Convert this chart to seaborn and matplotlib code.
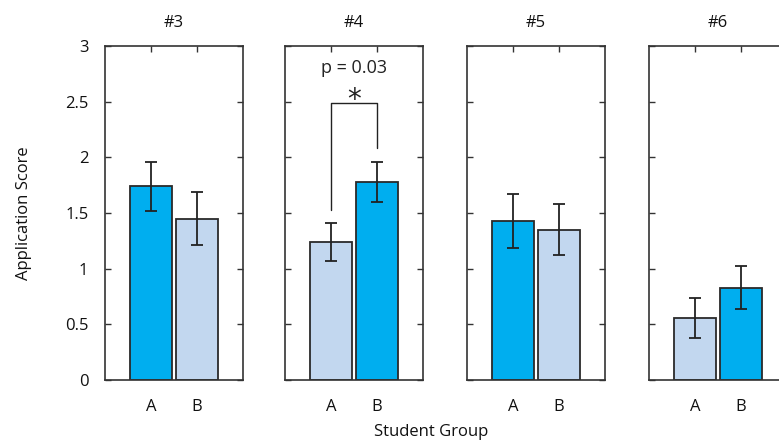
import matplotlib
matplotlib.use("Agg")
import matplotlib.pyplot as plt
import seaborn as sns
import pandas as pd

sns.set_theme(style="white")
plt.rcParams["font.family"] = ["Open Sans", "DejaVu Sans"]

# Mean application score and standard error per class session and student group
sessions = ["#3", "#4", "#5", "#6"]
groups = ["A", "B"]
means = {"#3": [1.74, 1.45], "#4": [1.24, 1.78], "#5": [1.43, 1.35], "#6": [0.56, 0.83]}
errors = {"#3": [0.22, 0.24], "#4": [0.17, 0.18], "#5": [0.24, 0.23], "#6": [0.18, 0.19]}
# Which group received the highlighted treatment in each session
highlight = {"#3": "A", "#4": "B", "#5": "A", "#6": "B"}
y_ticks = [0, 0.5, 1, 1.5, 2, 2.5, 3]
y_tick_labels = ["0", "0.5", "1", "1.5", "2", "2.5", "3"]
p_text = "p = 0.03"

BRIGHT = "#00AEEF"
PALE = "#C2D7EF"
EDGE = "#2a2a2a"
TXT = "#111111"

W, H = 779, 441
fig = plt.figure(figsize=(W / 100, H / 100), dpi=100)

lefts = [105, 285, 467, 649]
panel_w = 138
top_px, bottom_px = 46, 380

for i, s in enumerate(sessions):
    ax = fig.add_axes([lefts[i] / W, 1 - bottom_px / H, panel_w / W, (bottom_px - top_px) / H])
    df = pd.DataFrame({"group": groups, "score": means[s]})
    pal = {g: (BRIGHT if g == highlight[s] else PALE) for g in groups}
    sns.barplot(data=df, x="group", y="score", hue="group", palette=pal, order=groups,
                width=0.9, edgecolor=EDGE, linewidth=1.3, legend=False, ax=ax,
                errorbar=None, saturation=1)
    ax.errorbar(range(len(groups)), means[s], yerr=errors[s], fmt="none",
                ecolor="#222222", elinewidth=1.3, capsize=4, capthick=1.3, zorder=5)

    ax.set_xlim(-1, 2)
    ax.set_ylim(0, 3)
    ax.set_yticks(y_ticks)
    ax.set_xticks(range(len(groups)))
    ax.set_xticklabels(groups, fontsize=12, color=TXT)
    if i == 0:
        ax.set_yticklabels(y_tick_labels, fontsize=12, color=TXT)
        ax.set_ylabel("Application Score", fontsize=12, color=TXT, labelpad=24)
    else:
        ax.set_yticklabels([])
        ax.set_ylabel("")
    ax.set_xlabel("")
    ax.set_title(s, fontsize=12, color=TXT, pad=14)
    ax.tick_params(axis="x", pad=14)
    ax.tick_params(axis="y", pad=12)
    ax.tick_params(axis="both", direction="in", length=4, width=1, color="#333333",
                   top=True, right=True, bottom=False, left=True)
    for sp in ax.spines.values():
        sp.set_visible(True)
        sp.set_color("#333333")
        sp.set_linewidth(1.2)

    if s == "#4":
        a, b = means[s]
        ea, eb = errors[s]
        y_top = 2.485
        ax.plot([0, 0, 1, 1], [a + ea + 0.12, y_top, y_top, b + eb + 0.12],
                color="#222222", lw=1.0, zorder=6)
        ax.text(0.5, y_top - 0.1, "*", ha="center", va="bottom", fontsize=20,
                color="#222222", family="DejaVu Sans")
        ax.text(0.5, 2.72, p_text, ha="center", va="bottom", fontsize=13, color="#222222")

fig.text(431 / W, 1 - 432 / H, "Student Group", ha="center", va="center",
         fontsize=12, color=TXT)

fig.savefig("out.png", dpi=100)
